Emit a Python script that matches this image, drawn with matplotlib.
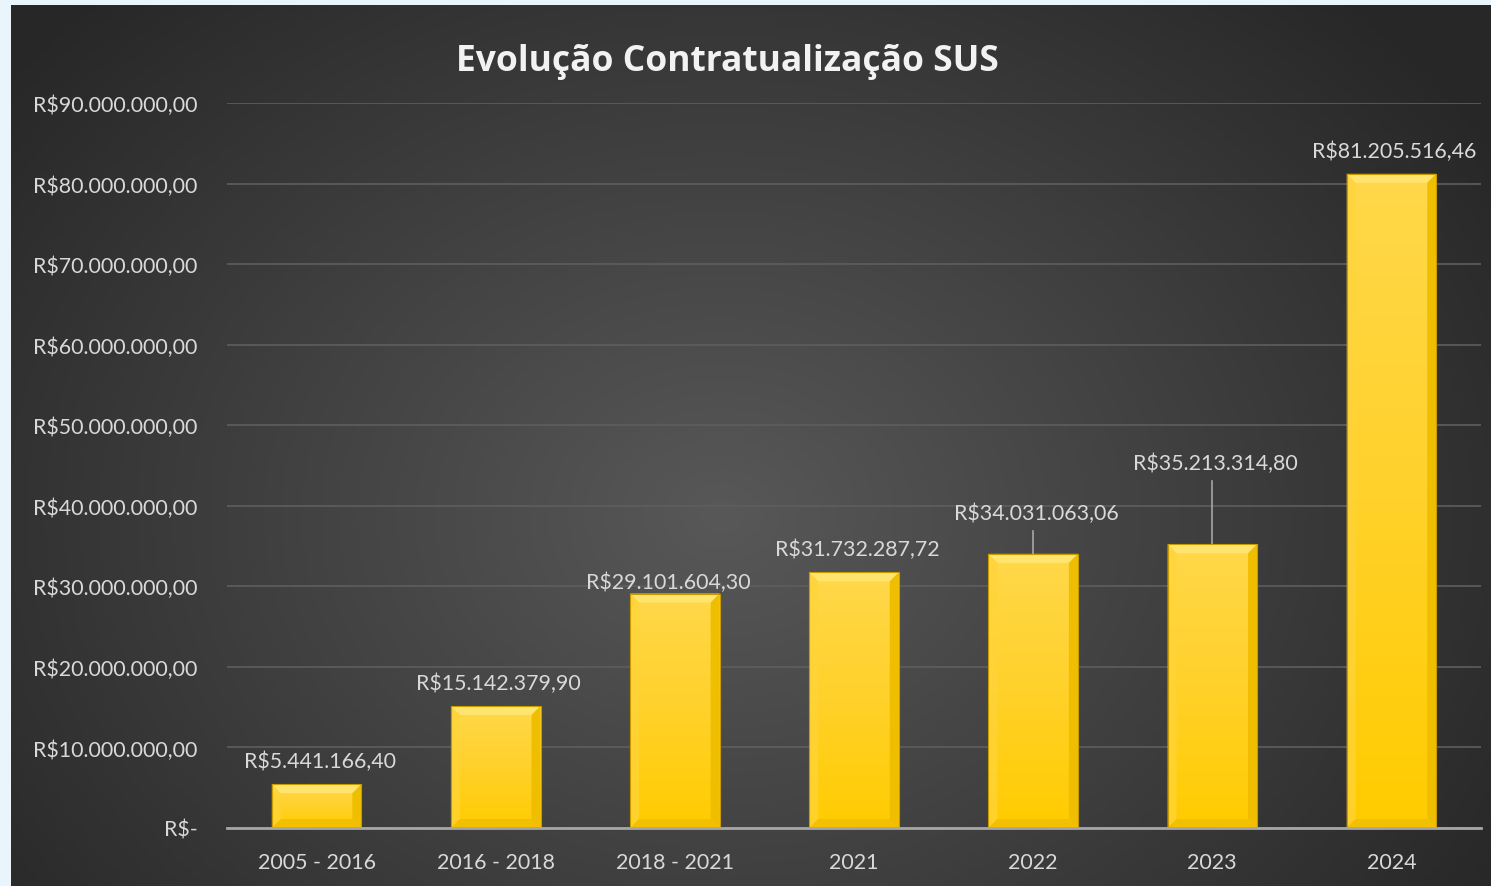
import numpy as np
import matplotlib
matplotlib.use("Agg")
import matplotlib.pyplot as plt
from matplotlib.patches import Rectangle, Polygon
from matplotlib.colors import LinearSegmentedColormap

# ---- data ----
categories = ["2005 - 2016", "2016 - 2018", "2018 - 2021", "2021", "2022", "2023", "2024"]
values = [5441166.40, 15142379.90, 29101604.30, 31732287.72, 34031063.06, 35213314.80, 81205516.46]
labels = ["R$5.441.166,40", "R$15.142.379,90", "R$29.101.604,30", "R$31.732.287,72",
          "R$34.031.063,06", "R$35.213.314,80", "R$81.205.516,46"]
label_offsets_px = [23, 23, 12, 23, 41, 81, 23]   # label lift above bar top (pixels)
label_xshift_px = [3, 3, -7, 3, 3, 3, 3]
yticks = [0, 10e6, 20e6, 30e6, 40e6, 50e6, 60e6, 70e6, 80e6, 90e6]
ytick_labels = ["R$-", "R$10.000.000,00", "R$20.000.000,00", "R$30.000.000,00", "R$40.000.000,00",
                "R$50.000.000,00", "R$60.000.000,00", "R$70.000.000,00", "R$80.000.000,00",
                "R$90.000.000,00"]
title = "Evolução Contratualização SUS"

W, H = 1491, 887
FONT = "Lato"
FS = 15.4
fig = plt.figure(figsize=(W / 100, H / 100), dpi=100)
fig.patch.set_facecolor("#EAF4FB")

# ---- radial gradient background ----
x0f = 11 / W
topf = 1 - 6 / H
bg = fig.add_axes([x0f, 0, 1 - x0f, topf], zorder=0)
bg.set_axis_off()
gx, gy = np.meshgrid(np.linspace(0, 1, 400), np.linspace(0, 1, 300))
cx, cy = 0.48, 0.58
r = np.sqrt(((gx - cx) * 1.0) ** 2 + ((gy - cy) * 0.75) ** 2)
r = np.clip(r / 0.62, 0, 1)
cmap_bg = LinearSegmentedColormap.from_list("bg", ["#585858", "#404040", "#272727"])
bg.imshow(r, cmap=cmap_bg, extent=[0, 1, 0, 1], aspect="auto", origin="upper", vmin=0, vmax=1)
bg.set_xlim(0, 1)
bg.set_ylim(0, 1)

# ---- main axes ----
ax = fig.add_axes([227 / W, 1 - 829 / H, (1481 - 227) / W, (829 - 104) / H], zorder=1)
ax.set_facecolor("none")
ax.set_xlim(-0.5, len(categories) - 0.5)
ax.set_ylim(0, 90e6)
for s in ["top", "right", "left"]:
    ax.spines[s].set_visible(False)
ax.spines["bottom"].set_color("#A6A6A6")
ax.spines["bottom"].set_linewidth(2)
ax.spines["bottom"].set_zorder(5)
ax.set_yticks(yticks)
ax.set_yticklabels(ytick_labels)
ax.set_xticks(range(len(categories)))
ax.set_xticklabels(categories)
ax.tick_params(axis="both", length=0, colors="#D9D9D9", labelsize=FS)
ax.tick_params(axis="y", pad=21)
ax.tick_params(axis="x", pad=17)
for t in ax.get_xticklabels() + ax.get_yticklabels():
    t.set_fontfamily(FONT)
ax.yaxis.grid(True, color="#5E5E5E", linewidth=1.2)
ax.set_axisbelow(True)

# pixel -> data conversions from axes scale
ax_w_px = 1481 - 227
ax_h_px = 829 - 104
dxp = (len(categories)) / ax_w_px
dyp = 90e6 / ax_h_px

bar_w = 0.5
bars = ax.bar(range(len(categories)), values, width=bar_w, color="#FFCC00", zorder=2, linewidth=0)

face_cmap = LinearSegmentedColormap.from_list("face", ["#FFCC00", "#FFD12A", "#FFD84A"])
for b, v in zip(bars, values):
    xl = b.get_x()
    xr = xl + b.get_width()
    grad = np.linspace(0, 1, 100).reshape(-1, 1) * np.ones((1, 10))
    im = ax.imshow(grad, cmap=face_cmap, extent=[xl, xr, 0, v], aspect="auto",
                   origin="lower", zorder=2.1)
    im.set_clip_path(b)
    bev = 9
    bx, by = bev * dxp, bev * dyp
    # top bevel (light)
    ax.add_patch(Polygon([[xl, v], [xr, v], [xr - bx, v - by], [xl + bx, v - by]],
                         closed=True, facecolor="#FFE46E", edgecolor="none", zorder=2.2))
    # left bevel
    ax.add_patch(Polygon([[xl, v], [xl + bx, v - by], [xl + bx, by], [xl, 0]],
                         closed=True, facecolor="#FFD43A", edgecolor="none", zorder=2.2, alpha=0.7))
    # right bevel (darker)
    ax.add_patch(Polygon([[xr, v], [xr - bx, v - by], [xr - bx, by], [xr, 0]],
                         closed=True, facecolor="#F0BE00", edgecolor="none", zorder=2.2))
    # bottom bevel
    ax.add_patch(Polygon([[xl, 0], [xl + bx, by], [xr - bx, by], [xr, 0]],
                         closed=True, facecolor="#F2C000", edgecolor="none", zorder=2.2))
    ax.add_patch(Rectangle((xl, 0), xr - xl, v, facecolor="none", edgecolor="#C79A00",
                           linewidth=0.8, zorder=2.3))

# data labels
for i, (v, lab, off, xs) in enumerate(zip(values, labels, label_offsets_px, label_xshift_px)):
    ly = v + off * dyp
    ax.text(i + xs * dxp, ly, lab, ha="center", va="center", color="#D9D9D9",
            fontsize=FS, fontfamily=FONT, zorder=4)
    if off > 30:
        ax.plot([i, i], [v, ly - 18 * dyp], color="#A6A6A6", linewidth=1.2, zorder=1.9)

fig.text(727 / W, 1 - 62 / H, title, ha="center", va="center", color="#F2F2F2",
         fontsize=25.5, fontweight="bold", fontfamily="Open Sans", zorder=5)

fig.savefig("out.png", dpi=100, facecolor=fig.get_facecolor())
